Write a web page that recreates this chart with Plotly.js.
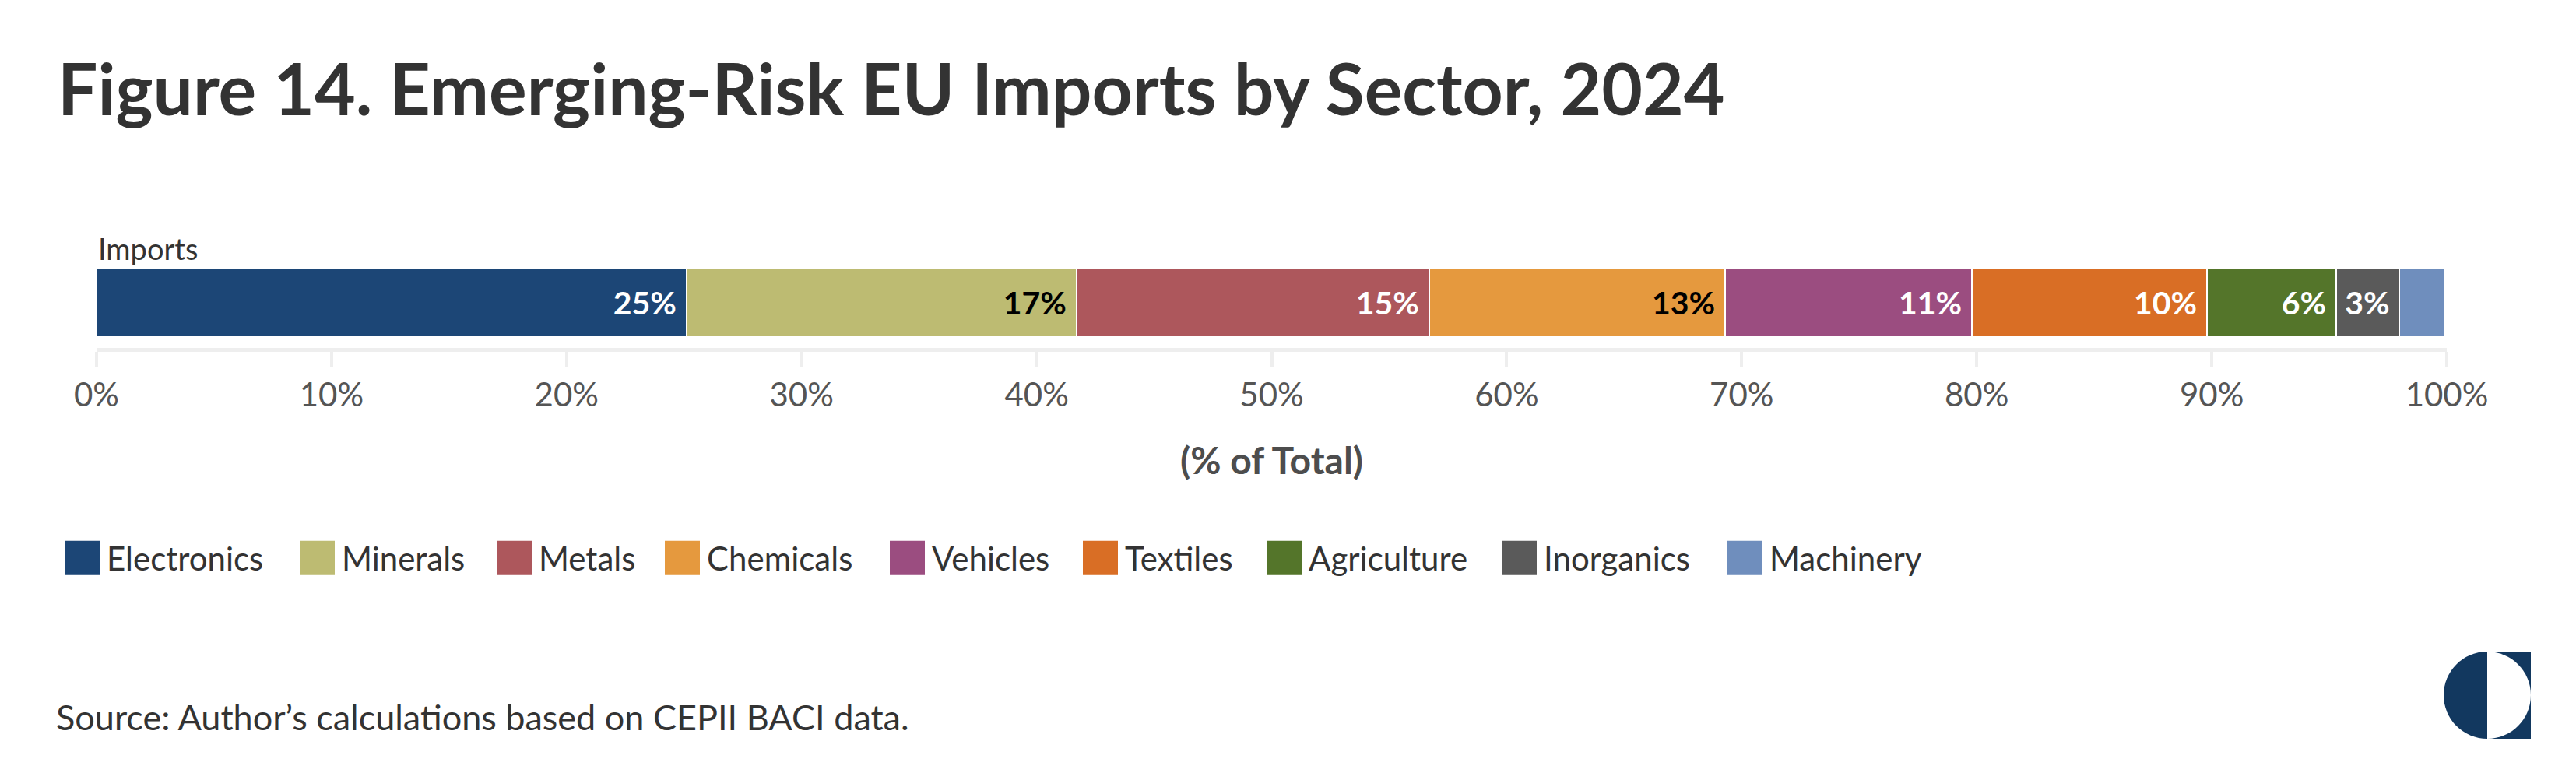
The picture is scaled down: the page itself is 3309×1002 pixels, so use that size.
<!DOCTYPE html>
<html>
<head>
<meta charset="utf-8">
<script src="https://cdn.plot.ly/plotly-3.0.1.min.js"></script>
<style>html,body{margin:0;padding:0;background:#fff;}#chart{width:3309px;height:1002px;}</style>
</head>
<body>
<div id="chart"></div>
<script>
// ---- data ----
const categories = ["Imports"];
const sectors = ["Electronics","Minerals","Metals","Chemicals","Vehicles","Textiles","Agriculture","Inorganics","Machinery"];
const shares = [25.1, 16.6, 15.0, 12.6, 10.5, 10.0, 5.5, 2.7, 1.9];
const shareLabels = ["25%","17%","15%","13%","11%","10%","6%","3%",""];
const tickValues = [0,10,20,30,40,50,60,70,80,90,100];
const tickLabels = ["0%","10%","20%","30%","40%","50%","60%","70%","80%","90%","100%"];

// ---- styles ----
const colors = ["#1c4676","#bdbb72","#ad575c","#e5993e","#9b4d80","#d96e25","#54752a","#5a5a5a","#6f8ebd"];
const labelColors = ["#fff","#000","#fff","#000","#fff","#fff","#fff","#fff","#fff"];
const legendLeft = [83,385,638,854,1143,1391,1627,1929,2219];
const FONT = "Lato, 'Noto Sans', sans-serif";
const FW = 3309, FH = 1002;
const L = 124, R = 166, T = 344, B = 555;
const W = FW - L - R, H = FH - T - B;
const px = x => (x - L) / W;
const py = y => (FH - B - y) / H;

const data = sectors.map((s, i) => ({
  type: "bar",
  orientation: "h",
  name: s,
  y: categories,
  x: [shares[i]],
  width: 1,
  text: [shareLabels[i]],
  texttemplate: shareLabels[i] ? "%{text}\u00a0" : "",
  textposition: "inside",
  insidetextanchor: "end",
  textangle: 0,
  textfont: {family: FONT, size: 41, color: labelColors[i], weight: 700},
  marker: {color: colors[i], line: {color: "#ffffff", width: 1.5}},
  hoverinfo: "skip",
  legend: i === 0 ? "legend" : "legend" + (i + 1)
}));

const layout = {
  width: FW, height: FH,
  paper_bgcolor: "#fff", plot_bgcolor: "#fff",
  margin: {l: L, r: R, t: T, b: B, autoexpand: false},
  barmode: "stack", bargap: 0,
  font: {family: FONT, color: "#333"},
  title: {
    text: "Figure 14. Emerging-Risk EU Imports by Sector, 2024",
    font: {family: FONT, size: 91, color: "#333", weight: 700},
    xref: "container", yref: "container",
    x: 74 / FW, xanchor: "left",
    y: 1 - 84 / FH, yanchor: "top"
  },
  xaxis: {
    range: [0, 100], fixedrange: true,
    tickvals: tickValues, ticktext: tickLabels,
    showgrid: false, zeroline: false,
    showline: true, linecolor: "#eeeeee", linewidth: 5,
    ticks: "outside", ticklen: 20, tickwidth: 4, tickcolor: "#eeeeee",
    tickfont: {family: FONT, size: 42, color: "#555"},
    title: {text: "(% of Total)", font: {family: FONT, size: 48, color: "#4d4d4d", weight: 700}, standoff: 46},
    automargin: false
  },
  yaxis: {
    type: "category", range: [-0.657, 0.5], fixedrange: true,
    visible: false
  },
  annotations: [
    {xref: "paper", yref: "paper", x: 0, y: 1, xanchor: "left", yanchor: "bottom", yshift: 0,
     text: categories[0], showarrow: false, font: {family: FONT, size: 38, color: "#333"}},
    {xref: "paper", yref: "paper", x: px(70), y: py(921), xanchor: "left", yanchor: "middle",
     text: "Source: Author’s calculations based on CEPII BACI data.", showarrow: false,
     font: {family: FONT, size: 45, color: "#333"}}
  ],
  shapes: [
    {type: "rect", xref: "paper", yref: "paper", xsizemode: "pixel", ysizemode: "pixel",
     xanchor: px(3195), yanchor: py(893), x0: 0, x1: 56, y0: -56, y1: 56,
     fillcolor: "#12385f", line: {width: 0}, layer: "above"},
    {type: "circle", xref: "paper", yref: "paper", xsizemode: "pixel", ysizemode: "pixel",
     xanchor: px(3195), yanchor: py(893), x0: -56, x1: 56, y0: -56, y1: 56,
     fillcolor: "#12385f", line: {width: 0}, layer: "above"},
    {type: "path", xref: "paper", yref: "paper", xsizemode: "pixel", ysizemode: "pixel",
     xanchor: px(3195), yanchor: py(893),
     path: "M0,-56 C30.93,-56 56,-30.93 56,0 C56,30.93 30.93,56 0,56 Z",
     fillcolor: "#ffffff", line: {width: 0}, layer: "above"}
  ],
  uniformtext: {mode: "show", minsize: 41},
  showlegend: true
};

sectors.forEach((s, i) => {
  const key = i === 0 ? "legend" : "legend" + (i + 1);
  layout[key] = {
    xref: "container", yref: "container",
    x: (legendLeft[i] - 9) / FW, xanchor: "left",
    y: 1 - 717 / FH, yanchor: "middle",
    orientation: "h", itemwidth: 53,
    bgcolor: "rgba(0,0,0,0)", borderwidth: 0,
    font: {family: FONT, size: 42, color: "#333"},
    itemclick: false, itemdoubleclick: false
  };
});

Plotly.newPlot("chart", data, layout, {displayModeBar: false, staticPlot: true, responsive: false}).then(gd => {
  gd.querySelectorAll("g.legendpoints path").forEach(p => {
    p.setAttribute("d", "M22.5,22H-22.5V-22H22.5Z");
    p.style.strokeWidth = "0";
  });
});
</script>
</body>
</html>
